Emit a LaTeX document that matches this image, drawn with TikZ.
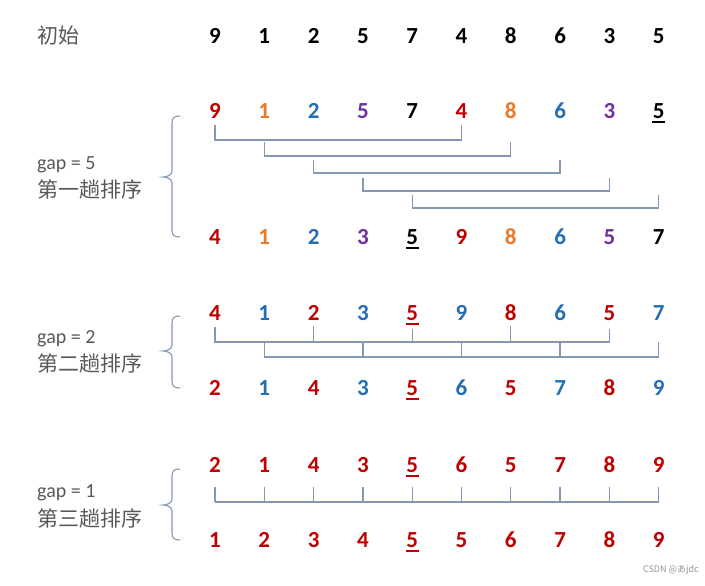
\documentclass[tikz,border=0pt]{standalone}
\usepackage{fontspec}
\setmainfont{Carlito}
\newfontfamily\cjk{Noto Sans CJK SC}
\definecolor{R}{RGB}{192,0,0}
\definecolor{O}{RGB}{232,122,40}
\definecolor{B}{RGB}{36,110,180}
\definecolor{P}{RGB}{112,48,160}
\definecolor{K}{RGB}{0,0,0}
\definecolor{lab}{RGB}{89,89,89}
\definecolor{conncol}{RGB}{132,152,180}
\tikzset{
  num/.style={font=\fontsize{23}{25}\selectfont\bfseries, inner sep=0pt, text height=14.5pt, text depth=0pt, anchor=center},
  conn/.style={draw=conncol, line width=1.3pt},
  lbl/.style={text=lab, anchor=west, inner sep=0pt},
  ulin/.style={line width=2pt}
}
\begin{document}
\begin{tikzpicture}[x=1pt,y=-1pt]
\useasboundingbox[fill=white] (0,0) rectangle (705,586);
% labels
\node[lbl, font=\cjk\fontsize{21}{23}\selectfont] (l0) at (37,36) {初始};
\node[lbl, font=\fontsize{20}{22}\selectfont] (l1a) at (37,165) {gap = 5};
\node[lbl, font=\cjk\fontsize{21}{23}\selectfont] (l1b) at (37,189) {第一趟排序};
\node[lbl, font=\fontsize{20}{22}\selectfont] (l2a) at (37,339) {gap = 2};
\node[lbl, font=\cjk\fontsize{21}{23}\selectfont] (l2b) at (37,363) {第二趟排序};
\node[lbl, font=\fontsize{20}{22}\selectfont] (l3a) at (37,493) {gap = 1};
\node[lbl, font=\cjk\fontsize{21}{23}\selectfont] (l3b) at (37,518) {第三趟排序};
% rows
\foreach \d/\c [count=\i from 0] in {9/K,1/K,2/K,5/K,7/K,4/K,8/K,6/K,3/K,5/K}
  \node[num, text=\c] (z\i) at ({215+49.3*\i},36) {\d};
\foreach \d/\c [count=\i from 0] in {9/R,1/O,2/B,5/P,7/K,4/R,8/O,6/B,3/P,5/K}
  \node[num, text=\c] (a\i) at ({215+49.3*\i},111) {\d};
\foreach \d/\c [count=\i from 0] in {4/R,1/O,2/B,3/P,5/K,9/R,8/O,6/B,5/P,7/K}
  \node[num, text=\c] (b\i) at ({215+49.3*\i},237) {\d};
\foreach \d/\c [count=\i from 0] in {4/R,1/B,2/R,3/B,5/R,9/B,8/R,6/B,5/R,7/B}
  \node[num, text=\c] (c\i) at ({215+49.3*\i},313) {\d};
\foreach \d/\c [count=\i from 0] in {2/R,1/B,4/R,3/B,5/R,6/B,5/R,7/B,8/R,9/B}
  \node[num, text=\c] (d\i) at ({215+49.3*\i},388) {\d};
\foreach \d/\c [count=\i from 0] in {2/R,1/R,4/R,3/R,5/R,6/R,5/R,7/R,8/R,9/R}
  \node[num, text=\c] (e\i) at ({215+49.3*\i},465) {\d};
\foreach \d/\c [count=\i from 0] in {1/R,2/R,3/R,4/R,5/R,5/R,6/R,7/R,8/R,9/R}
  \node[num, text=\c] (f\i) at ({215+49.3*\i},540) {\d};
% underlines
\draw[ulin, K] ([xshift=-6.5pt]a9.south) ++(0,4) -- ++(13,0);
\draw[ulin, K] ([xshift=-6.5pt]b4.south) ++(0,4) -- ++(13,0);
\draw[ulin, R] ([xshift=-6.5pt]c4.south) ++(0,4) -- ++(13,0);
\draw[ulin, R] ([xshift=-6.5pt]d4.south) ++(0,4) -- ++(13,0);
\draw[ulin, R] ([xshift=-6.5pt]e4.south) ++(0,4) -- ++(13,0);
\draw[ulin, R] ([xshift=-6.5pt]f4.south) ++(0,4) -- ++(13,0);
% gap 5 connectors (staircase)
\foreach \i/\j/\s/\l in {0/5/125/140,1/6/142/156,2/7/160/173,3/8/178/191,4/9/195/208}
  \draw[conn] (a\i |- 0,\s) -- (a\i |- 0,\l) -- (a\j |- 0,\l) -- (a\j |- 0,\s);
% gap 2 connectors
\draw[conn] (c0 |- 0,327) -- (c0 |- 0,342) -- (c8 |- 0,342) -- (c8 |- 0,329);
\foreach \k/\s in {2/326,4/329,6/326}
  \draw[conn] (c\k |- 0,\s) -- (c\k |- 0,342);
\draw[conn] (c1 |- 0,342) -- (c1 |- 0,357) -- (c9 |- 0,357) -- (c9 |- 0,342);
\foreach \k in {3,5,7}
  \draw[conn] (c\k |- 0,342) -- (c\k |- 0,357);
% gap 1 connectors
\draw[conn] (e0 |- 0,502) -- (e9 |- 0,502);
\foreach \k in {0,...,9}
  \draw[conn] (e\k |- 0,487) -- (e\k |- 0,502);
% braces
\foreach \ya/\ym/\yb in {116/177/237, 316/351/388, 469/505/540}
  \draw[conn, line width=1.1pt] (180,\ya) .. controls (174,\ya) and (172,\ya+2) .. (172,\ya+7)
    -- (172,\ym-6) .. controls (172,\ym-2) and (167,\ym) .. (163,\ym)
    .. controls (167,\ym) and (172,\ym+2) .. (172,\ym+6)
    -- (172,\yb-7) .. controls (172,\yb-2) and (174,\yb) .. (180,\yb);
% watermark
\node[anchor=east, inner sep=0pt, text={rgb,255:red,150;green,150;blue,150}, font=\cjk\fontsize{9}{10}\selectfont] (wm) at (699,570) {CSDN @あjdc};
\end{tikzpicture}
\end{document}
